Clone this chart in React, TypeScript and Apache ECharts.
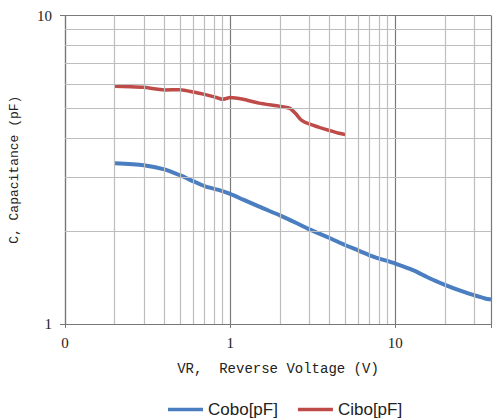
import React, { useEffect, useRef } from "react";
import * as echarts from "echarts";

const coboData: [number, number][] = [
  [0.2, 3.32], [0.3, 3.27], [0.4, 3.17], [0.5, 3.03], [0.6, 2.9], [0.7, 2.8],
  [0.85, 2.72], [1.0, 2.64], [1.2, 2.53], [1.5, 2.4], [2, 2.25], [2.5, 2.13],
  [3, 2.03], [4, 1.9], [5, 1.8], [6, 1.73], [7, 1.67], [8, 1.63], [10, 1.57],
  [13, 1.49], [16, 1.41], [20, 1.34], [25, 1.28], [30, 1.24], [35, 1.21], [38, 1.2],
];
const ciboData: [number, number][] = [
  [0.2, 5.9], [0.25, 5.88], [0.3, 5.85], [0.4, 5.74], [0.5, 5.75], [0.6, 5.65],
  [0.7, 5.55], [0.8, 5.45], [0.9, 5.35], [1.0, 5.42], [1.2, 5.35], [1.5, 5.2],
  [2, 5.08], [2.3, 5.0], [2.5, 4.8], [2.7, 4.58], [3, 4.45], [3.5, 4.33],
  [4, 4.24], [4.5, 4.16], [5, 4.11],
];
const xMinorGrid = [0.2, 0.3, 0.4, 0.5, 0.6, 0.7, 0.8, 0.9, 2, 3, 4, 5, 6, 7, 8, 9, 20, 30];
const yMinorGrid = [2, 3, 4, 5, 6, 7, 8, 9];
const xMin = 0.1;
const xMax = 38;
const yMin = 1;
const yMax = 10;

const isPow10 = (v: number) => {
  const l = Math.log10(v);
  return Math.abs(l - Math.round(l)) < 1e-6;
};

export default function App() {
  const ref = useRef<HTMLDivElement>(null);
  useEffect(() => {
    if (!ref.current) return;
    const chart = echarts.init(ref.current, undefined, { renderer: "svg" });
    const minorLine = { color: "#bdbdbd", width: 1.2, type: "solid" as const };
    chart.setOption({
      animation: false,
      backgroundColor: "#ffffff",
      grid: { left: 63.5, top: 15.5, right: 0, bottom: 95, containLabel: false },
      legend: {
        data: ["Cobo[pF]", "Cibo[pF]"],
        left: 163,
        top: 396,
        icon: "rect",
        itemWidth: 35,
        itemHeight: 3.5,
        itemGap: 20,
        textStyle: { fontFamily: "Liberation Sans", fontSize: 17, color: "#222" },
      },
      xAxis: {
        type: "log",
        logBase: 10,
        min: xMin,
        max: xMax,
        name: "VR,  Reverse Voltage (V)",
        nameLocation: "middle",
        nameGap: 38,
        nameTextStyle: { fontFamily: "Liberation Mono", fontSize: 14, color: "#222" },
        axisLine: { show: true, lineStyle: { color: "#777", width: 1.2 } },
        axisTick: { show: true, length: 4, lineStyle: { color: "#777" } },
        axisLabel: {
          margin: 11,
          fontFamily: "Liberation Serif",
          fontSize: 15,
          color: "#222",
          formatter: (v: number) => {
            if (!isPow10(v)) return "";
            const r = Math.round(Math.log10(v));
            if (r < 0) return "0";
            return String(Math.round(Math.pow(10, r)));
          },
        },
        splitLine: { show: true, lineStyle: { color: "#7a7a7a", width: 1.2 } },
      },
      yAxis: {
        type: "log",
        logBase: 10,
        min: yMin,
        max: yMax,
        name: "C, Capacitance (pF)",
        nameLocation: "middle",
        nameGap: 44,
        nameTextStyle: { fontFamily: "Liberation Mono", fontSize: 13, color: "#222" },
        axisLine: { show: true, lineStyle: { color: "#777", width: 1.2 } },
        axisTick: { show: true, length: 5, lineStyle: { color: "#777" } },
        axisLabel: {
          margin: 13,
          fontFamily: "Liberation Serif",
          fontSize: 15,
          color: "#222",
          formatter: (v: number) => (isPow10(v) ? String(Math.round(v)) : ""),
        },
        splitLine: { show: true, lineStyle: { color: "#7a7a7a", width: 1.2 } },
      },
      series: [
        {
          name: "grid",
          type: "line",
          data: [],
          z: 1,
          silent: true,
          markLine: {
            silent: true,
            symbol: ["none", "none"],
            label: { show: false },
            lineStyle: minorLine,
            data: [
              ...xMinorGrid.map((x) => ({ xAxis: x })),
              ...yMinorGrid.map((y) => ({ yAxis: y })),
            ],
          },
        },
        {
          name: "Cobo[pF]",
          type: "line",
          data: coboData,
          showSymbol: false,
          symbol: "none",
          smooth: 0.25,
          z: 3,
          lineStyle: { color: "#4a7ec0", width: 4 },
          itemStyle: { color: "#4a7ec0" },
        },
        {
          name: "Cibo[pF]",
          type: "line",
          data: ciboData,
          showSymbol: false,
          symbol: "none",
          smooth: 0.15,
          z: 3,
          lineStyle: { color: "#be4b48", width: 3.5 },
          itemStyle: { color: "#be4b48" },
        },
      ],
    });
    return () => chart.dispose();
  }, []);
  return (
    <div
      ref={ref}
      style={{ position: "fixed", left: 0, top: 0, width: 494, height: 419 }}
    />
  );
}
